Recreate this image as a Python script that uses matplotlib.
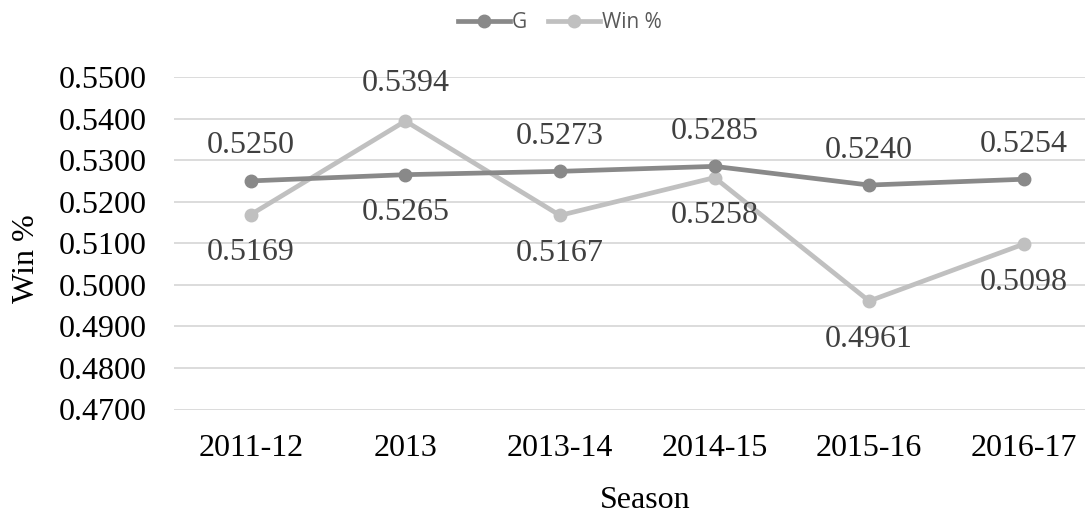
import matplotlib
matplotlib.use("Agg")
import matplotlib.pyplot as plt
from matplotlib.lines import Line2D

seasons = ["2011-12", "2013", "2013-14", "2014-15", "2015-16", "2016-17"]
g_values = [0.5250, 0.5265, 0.5273, 0.5285, 0.5240, 0.5254]
win_values = [0.5169, 0.5394, 0.5167, 0.5258, 0.4961, 0.5098]
# label placement: +1 above, -1 below
g_label_side = [1, -1, 1, 1, 1, 1]
win_label_side = [-1, 1, -1, -1, -1, -1]
y_ticks = [0.47, 0.48, 0.49, 0.50, 0.51, 0.52, 0.53, 0.54, 0.55]

G_COLOR = "#898989"
WIN_COLOR = "#c0c0c0"
TEXT_COLOR = "#404040"
SERIF = ["Liberation Serif", "DejaVu Serif"]
FS = 23

fig = plt.figure(figsize=(10.85, 5.14), dpi=100)
W, H = 1085, 514
left, right, top, bottom = 173.5, 1101.0, 77.0, 409.5
ax = fig.add_axes([left / W, 1 - bottom / H, (right - left) / W, (bottom - top) / H])

x = list(range(len(seasons)))
ax.plot(x, g_values, color=G_COLOR, lw=3.4, marker="o", ms=9, zorder=3, label="G")
ax.plot(x, win_values, color=WIN_COLOR, lw=3.4, marker="o", ms=9, zorder=2, label="Win %")

ax.set_xlim(-0.5, len(seasons) - 0.5)
ax.set_ylim(0.47, 0.55)
ax.set_yticks(y_ticks)
ax.set_yticklabels([f"{v:.4f}" for v in y_ticks], fontfamily=SERIF, fontsize=FS, color="black")
ax.set_xticks(x)
ax.set_xticklabels(seasons, fontfamily=SERIF, fontsize=FS, color="black")
ax.tick_params(axis="both", length=0)
ax.tick_params(axis="y", pad=19)
ax.tick_params(axis="x", pad=18)
ax.grid(axis="y", color="#d9d9d9", lw=1.3)
ax.set_axisbelow(True)
for s in ax.spines.values():
    s.set_visible(False)

for xi, v, side in zip(x, g_values, g_label_side):
    off = -35 if side > 0 else 38
    ax.annotate(f"{v:.4f}", (xi, v), xytext=(0, -off * 0.72), textcoords="offset points",
                ha="center", va="center", fontfamily=SERIF, fontsize=FS, color=TEXT_COLOR)
for xi, v, side in zip(x, win_values, win_label_side):
    off = -38 if side > 0 else 38
    ax.annotate(f"{v:.4f}", (xi, v), xytext=(0, -off * 0.72), textcoords="offset points",
                ha="center", va="center", fontfamily=SERIF, fontsize=FS, color=TEXT_COLOR)

fig.text(26 / W, 1 - 259 / H, "Win %", rotation=90, ha="center", va="center",
         fontfamily=SERIF, fontsize=FS, color="black")
fig.text(645 / W, 1 - 500 / H, "Season", ha="center", va="center",
         fontfamily=SERIF, fontsize=FS, color="black")

handles = [Line2D([], [], color=G_COLOR, lw=3.4, marker="o", ms=9),
           Line2D([], [], color=WIN_COLOR, lw=3.4, marker="o", ms=9)]
fig.legend(handles, ["G", "Win %"], loc="center", bbox_to_anchor=(560 / W, 1 - 23 / H),
           ncol=2, frameon=False, handlelength=2.5, handletextpad=0.1, columnspacing=1.0,
           prop={"family": "Open Sans", "size": 15}, labelcolor="#595959")

fig.savefig("out.png", dpi=100)
